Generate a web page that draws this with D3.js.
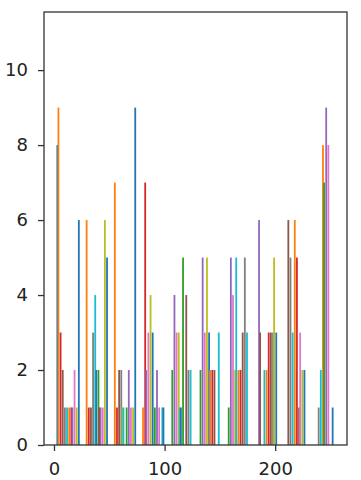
<!DOCTYPE html>
<html>
<head>
<meta charset="utf-8">
<script src="https://cdn.jsdelivr.net/npm/d3@7"></script>
<style>
body { margin: 0; background: #fff; }
svg { display: block; font-family: "DejaVu Sans", sans-serif; }
</style>
</head>
<body>
<div id="chart"></div>
<script>
// histogram of 21 datasets, 10 equal bins between 0 and 255
var binStart = 0, binEnd = 255, binCount = 10;
var xTicks = [0, 100, 200];
var yTicks = [0, 2, 4, 6, 8, 10];
var yMaxCount = 11;

// counts in each bin, one value per dataset (dataset 0 .. 20)
var bin0 = [8, 9, 0, 3, 0, 2, 0, 1, 0, 1, 0, 1, 0, 1, 1, 0, 2, 0, 1, 0, 6];
var bin1 = [0, 6, 0, 1, 0, 1, 0, 3, 0, 4, 2, 0, 2, 1, 1, 0, 1, 0, 6, 0, 5];
var bin2 = [0, 7, 0, 1, 0, 2, 0, 2, 1, 1, 0, 0, 1, 0, 2, 0, 1, 0, 1, 0, 9];
var bin3 = [0, 1, 0, 7, 2, 0, 3, 0, 4, 0, 3, 0, 1, 0, 2, 0, 1, 0, 0, 1, 1];
var bin4 = [0, 0, 2, 0, 4, 0, 3, 0, 3, 1, 1, 0, 5, 0, 0, 4, 0, 2, 0, 2, 0];
var bin5 = [0, 0, 2, 0, 5, 0, 3, 0, 5, 0, 3, 2, 0, 2, 0, 2, 0, 0, 0, 3, 0];
var bin6 = [0, 0, 1, 0, 5, 0, 4, 0, 2, 5, 0, 2, 0, 2, 0, 3, 0, 5, 0, 3, 0];
var bin7 = [0, 0, 0, 0, 6, 3, 0, 0, 0, 2, 0, 2, 0, 3, 0, 3, 0, 3, 5, 0, 3];
var bin8 = [0, 0, 0, 0, 0, 6, 0, 5, 0, 3, 0, 6, 0, 5, 0, 1, 3, 0, 2, 0, 2];
var bin9 = [0, 0, 0, 0, 0, 0, 0, 1, 0, 2, 0, 8, 7, 0, 9, 0, 8, 0, 0, 0, 1];
var bins = [bin0, bin1, bin2, bin3, bin4, bin5, bin6, bin7, bin8, bin9];

var width = 361, height = 480,
    margin = {top: 12, right: 14, bottom: 35, left: 44},
    plotW = width - margin.left - margin.right,
    plotH = height - margin.top - margin.bottom,
    nSets = bin0.length,
    colors = d3.schemeCategory10;

var bw = (binEnd - binStart) / binCount;
// bars cover 80% of every bin, the axis adds 5% on each side
var lo = binStart + 0.1 * bw, hi = binEnd - 0.1 * bw, pad = 0.05 * (hi - lo);
var x = d3.scaleLinear().domain([lo - pad, hi + pad]).range([-1, plotW]);
var y = d3.scaleLinear().domain([0, yMaxCount * 1.05]).range([plotH, 0]);
var barW = 0.8 * bw / nSets;
var drawW = 1.8; // bars are thin; the picture shows them about 2px wide

var svg = d3.select("#chart").append("svg")
    .attr("width", width)
    .attr("height", height);
var g = svg.append("g")
    .attr("transform", "translate(" + margin.left + "," + margin.top + ")");

var rects = [];
bins.forEach(function (counts, i) {
    var left = binStart + i * bw + 0.1 * bw;
    counts.forEach(function (v, j) {
        if (v > 0) rects.push({x0: left + j * barW, v: v, set: j});
    });
});

g.selectAll("rect.bar").data(rects).enter().append("rect")
    .attr("class", "bar")
    .attr("x", function (d) { return x(d.x0 + barW / 2) - drawW / 2; })
    .attr("width", drawW)
    .attr("y", function (d) { return y(d.v); })
    .attr("height", function (d) { return plotH - y(d.v); })
    .attr("fill", function (d) { return colors[d.set % 10]; });

var xAxis = d3.axisBottom(x).tickValues(xTicks).tickSize(6).tickPadding(11);
var yAxis = d3.axisLeft(y).tickValues(yTicks).tickSize(6).tickPadding(10);

var gx = g.append("g").attr("transform", "translate(0," + plotH + ")").call(xAxis);
var gy = g.append("g").call(yAxis);
[gx, gy].forEach(function (a) {
    a.select(".domain").remove();
    a.selectAll("line").attr("stroke", "#333").attr("stroke-width", 1.3);
    a.selectAll("text").attr("fill", "#222").style("font-size", "18px")
        .style("font-family", "'DejaVu Sans', sans-serif");
});

g.append("rect")
    .attr("width", plotW)
    .attr("height", plotH)
    .attr("fill", "none")
    .attr("stroke", "#333")
    .attr("stroke-width", 1.3);
</script>
</body>
</html>
